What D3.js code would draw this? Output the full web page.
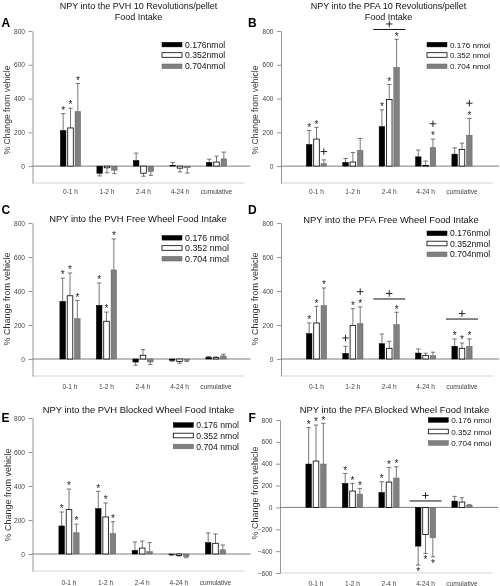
<!DOCTYPE html>
<html><head><meta charset="utf-8">
<script src="https://cdn.jsdelivr.net/npm/d3@7"></script>
<style>body{margin:0;background:#fff} svg{display:block;filter:grayscale(100%)}</style>
</head><body>
<svg id="c" width="500" height="586"></svg>
<script>
// ---------- data ----------
const categories = ["0-1 h", "1-2 h", "2-4 h", "4-24 h", "cumulative"];
const doseLabelsTight = ["0.176nmol", "0.352nmol", "0.704nmol"];
const doseLabels = ["0.176 nmol", "0.352 nmol", "0.704 nmol"];
const ticksStd = [0, 200, 400, 600, 800];
const ticksWide = [-600, -400, -200, 0, 200, 400, 600, 800];

// means [series][category], error magnitudes likewise
const aMean = [[211, -43, 33, 5, 22], [226, -10, -42, -12, 24], [323, -24, -32, -10, 43]];
const aErr  = [[100, 15, 44, 16, 19], [117, 30, 18, 23, 35], [166, 21, 23, 31, 40]];
const bMean = [[128, 22, 234, 55, 71], [160, 24, 394, 4, 99], [14, 93, 585, 110, 183]];
const bErr  = [[83, 23, 99, 40, 37], [70, 57, 89, 26, 37], [23, 71, 166, 50, 99]];
const cMean = [[339, 316, -18, -8, 10], [372, 222, 22, -15, 8], [237, 524, -18, -8, 18]];
const cErr  = [[137, 131, 19, 5, 5], [134, 54, 33, 10, 4], [108, 182, 15, 7, 10]];
const dMean = [[149, 33, 90, 35, 75], [212, 198, 63, 20, 63], [314, 208, 202, 20, 75]];
const dErr  = [[63, 42, 57, 24, 43], [98, 98, 41, 14, 31], [104, 98, 73, 20, 43]];
const eMean = [[165, 267, 22, -3, 67], [261, 218, 35, -8, 63], [125, 120, 14, -15, 25]];
const eErr  = [[82, 102, 49, 5, 57], [121, 82, 41, 4, 55], [51, 70, 53, 7, 28]];
const fMean = [[397, 220, 137, -354, 58], [424, 150, 232, -247, 49], [397, 122, 269, -278, 21]];
const fErr  = [[333, 91, 98, 174, 43], [330, 70, 134, 174, 40], [373, 52, 103, 174, 4]];

// significance marks: [category index, series index]
const aStars = [[0,0],[0,1],[0,2]];
const bStars = [[0,0],[0,1],[2,0],[2,1],[2,2],[3,2],[4,2]];
const bPlus  = [[0,2],[3,2],[4,2]];
const bGroups = [[2, 809]];
const cStars = [[0,0],[0,1],[0,2],[1,0],[1,1],[1,2]];
const dStars = [[0,0],[0,1],[0,2],[1,1],[1,2],[2,2],[4,0],[4,1],[4,2]];
const dPlus  = [[1,0],[1,2]];
const dGroups = [[2, 353], [4, 235]];
const eStars = [[0,0],[0,1],[0,2],[1,0],[1,1],[1,2]];
const fStars = [[0,0],[0,1],[0,2],[1,0],[1,1],[1,2],[2,0],[2,1],[2,2],[3,0],[3,1],[3,2]];
const fGroups = [[3, 59]];

const titles = {
  A: ["NPY into the PVH 10 Revolutions/pellet", "Food Intake"],
  B: ["NPY into the PFA 10 Revolutions/pellet", "Food Intake"],
  C: ["NPY into the PVH Free Wheel Food Intake"],
  D: ["NPY into the PFA Free Wheel Food Intake"],
  E: ["NPY into the PVH Blocked Wheel Food Intake"],
  F: ["NPY into the PFA Blocked Wheel Food Intake"]
};

// ---------- layout ----------
const FONT = "'Liberation Sans', Arial, Helvetica, sans-serif";
const panels = [
  {id:"A", mean:aMean, err:aErr, legend:doseLabelsTight, stars:aStars, plus:[], groups:[],
   axisX:32.5, xr:[70.5,216.5], yr:[183,31], dom:[-100,800], ticks:ticksStd,
   titleX:138.5, titleY:[9.4,19.8], titleFont:9, letter:[1.5,27], legX:162, legRows:[44.6,55,66.3], legFont:8.6,
   catY:193.5, ylabX:9.8, ylabY:110, ylabFont:8.6},
  {id:"B", mean:bMean, err:bErr, legend:doseLabels, stars:bStars, plus:bPlus, groups:bGroups,
   axisX:281, xr:[316.5,462], yr:[183,31], dom:[-100,800], ticks:ticksStd,
   titleX:388.5, titleY:[9.4,19.8], titleFont:9, letter:[248,27], legX:427, legRows:[44.6,55,66.3], legFont:8.1,
   catY:193.5, ylabX:257.5, ylabY:110, ylabFont:8.6},
  {id:"C", mean:cMean, err:cErr, legend:doseLabels, stars:cStars, plus:[], groups:[],
   axisX:32.5, xr:[70,216], yr:[376,223], dom:[-100,800], ticks:ticksStd,
   titleX:138, titleY:[221.7], titleFont:9.4, letter:[1.5,213.5], legX:162, legRows:[237.8,248,258.7], legFont:8.9,
   catY:388.5, ylabX:10.2, ylabY:299, ylabFont:9},
  {id:"D", mean:dMean, err:dErr, legend:doseLabelsTight, stars:dStars, plus:dPlus, groups:dGroups,
   axisX:281, xr:[316.5,462], yr:[376,223], dom:[-100,800], ticks:ticksStd,
   titleX:391, titleY:[222.5], titleFont:9.4, letter:[248,213.5], legX:427, legRows:[233.3,243.5,254.3], legFont:8.6,
   catY:388.5, ylabX:257.5, ylabY:299, ylabFont:9},
  {id:"E", mean:eMean, err:eErr, legend:doseLabels, stars:eStars, plus:[], groups:[],
   axisX:32.5, xr:[69,215.5], yr:[571,418], dom:[-100,800], ticks:ticksStd,
   titleX:138.5, titleY:[412.5], titleFont:9.4, letter:[1.5,422], legX:173.3, legRows:[425,435.5,446.5], legFont:8.6,
   catY:584.5, ylabX:10.5, ylabY:495, ylabFont:9},
  {id:"F", mean:fMean, err:fErr, legend:doseLabels, stars:fStars, plus:[], groups:fGroups,
   axisX:280, xr:[316,462], yr:[573,420], dom:[-600,800], ticks:ticksWide,
   titleX:394.5, titleY:[413], titleFont:9.4, letter:[248.5,422], legX:428.3, legRows:[420,431.5,443], legFont:8.1,
   catY:585.5, ylabX:257.5, ylabY:493, ylabFont:9}
];

const fills = ["#000000", "#ffffff", "#808080"];
const strokes = ["#000000", "#000000", "#606060"];

const svg = d3.select("#c").style("font-family", FONT);

// significance cross mark drawn as two strokes
function cross(g, cx, cy) {
  const h = 3.2;
  g.append("path").attr("d", `M${cx - h},${cy}H${cx + h}M${cx},${cy - h}V${cy + h}`)
    .attr("stroke", "#222").attr("stroke-width", 1).attr("fill", "none");
}

panels.forEach(p => {
  const g = svg.append("g");
  const y = d3.scaleLinear().domain(p.dom).range(p.yr);
  const x = d3.scalePoint().domain(categories).range(p.xr);
  const s = d3.scaleBand().domain([0,1,2]).range([-11, 11]).padding(0);
  const barW = s.bandwidth() * 0.76;
  const barX = (ci, si) => x(categories[ci]) + s(si) + (s.bandwidth() - barW) / 2;
  const barC = (ci, si) => barX(ci, si) + barW / 2;

  // bottom frame line
  g.append("line").attr("x1", p.axisX).attr("x2", p.axisX + 212)
    .attr("y1", y(p.dom[0])).attr("y2", y(p.dom[0]))
    .attr("stroke", "#c8c8c8").attr("stroke-width", 0.8);

  // y axis
  const ax = g.append("g").attr("transform", `translate(${p.axisX},0)`)
    .call(d3.axisLeft(y).tickValues(p.ticks).tickSize(4).tickSizeOuter(0).tickPadding(3.5));
  ax.select(".domain").attr("stroke", "#8a8a8a").attr("stroke-width", 0.9);
  ax.selectAll(".tick line").attr("stroke", "#8a8a8a").attr("stroke-width", 0.9);
  ax.selectAll(".tick text").attr("font-size", 6.6).attr("fill", "#444").attr("font-family", FONT);

  // zero line
  g.append("line").attr("x1", p.axisX).attr("x2", p.axisX + 218)
    .attr("y1", y(0)).attr("y2", y(0)).attr("stroke", "#707070").attr("stroke-width", 0.9);

  // category labels
  g.selectAll("text.cat").data(categories).enter().append("text")
    .attr("x", d => x(d)).attr("y", p.catY).attr("text-anchor", "middle")
    .attr("font-size", 6.6).attr("fill", "#444").text(d => d);

  // bars + error bars
  p.mean.forEach((series, si) => {
    series.forEach((v, ci) => {
      const top = Math.max(v, 0), bot = Math.min(v, 0);
      const e = p.err[si][ci];
      const ev = v >= 0 ? v + e : v - e;
      const cx = barC(ci, si);
      g.append("line").attr("x1", cx).attr("x2", cx).attr("y1", y(v)).attr("y2", y(ev))
        .attr("stroke", "#555").attr("stroke-width", 0.8);
      g.append("line").attr("x1", cx - 2.2).attr("x2", cx + 2.2).attr("y1", y(ev)).attr("y2", y(ev))
        .attr("stroke", "#555").attr("stroke-width", 0.8);
      g.append("rect").attr("x", barX(ci, si)).attr("width", barW)
        .attr("y", y(top)).attr("height", Math.max(0.6, y(bot) - y(top)))
        .attr("fill", fills[si]).attr("stroke", strokes[si]).attr("stroke-width", si === 1 ? 0.8 : 0.5);
    });
  });

  const errEnd = (ci, si) => {
    const v = p.mean[si][ci], e = p.err[si][ci];
    return v >= 0 ? v + e : v - e;
  };

  // stars
  p.stars.forEach(([ci, si]) => {
    const v = p.mean[si][ci];
    const ey = y(errEnd(ci, si));
    g.append("text").attr("x", barC(ci, si)).attr("y", v >= 0 ? ey + 0.3 : ey + 10)
      .attr("text-anchor", "middle").attr("font-size", 10).attr("fill", "#222").text("*");
  });
  // plus marks
  p.plus.forEach(([ci, si]) => {
    const ey = y(errEnd(ci, si));
    const stacked = p.stars.some(([c2, s2]) => c2 === ci && s2 === si);
    cross(g, barC(ci, si), stacked ? ey - 15.3 : ey - 8.3);
  });
  // group lines
  p.groups.forEach(([ci, val]) => {
    const cx = x(categories[ci]);
    const ly = y(val);
    g.append("line").attr("x1", cx - 16).attr("x2", cx + 16).attr("y1", ly).attr("y2", ly)
      .attr("stroke", "#111").attr("stroke-width", 1);
    cross(g, cx, ly - 5.5);
  });

  // legend
  p.legend.forEach((lab, si) => {
    const ry = p.legRows[si];
    g.append("rect").attr("x", p.legX).attr("y", ry - 2.3).attr("width", 20).attr("height", 4.6)
      .attr("fill", fills[si]).attr("stroke", strokes[si]).attr("stroke-width", si === 1 ? 0.8 : 0.5);
    g.append("text").attr("x", p.legX + 23).attr("y", ry + 3.1).attr("font-size", p.legFont)
      .attr("fill", "#111").text(lab);
  });

  // title
  titles[p.id].forEach((t, i) => {
    g.append("text").attr("x", p.titleX).attr("y", p.titleY[i]).attr("text-anchor", "middle")
      .attr("font-size", p.titleFont).attr("fill", "#111").text(t);
  });

  // y axis title
  g.append("text").attr("transform", `translate(${p.ylabX},${p.ylabY}) rotate(-90)`)
    .attr("text-anchor", "middle").attr("font-size", p.ylabFont).attr("fill", "#333")
    .text("% Change from vehicle");

  // panel letter
  g.append("text").attr("x", p.letter[0]).attr("y", p.letter[1]).attr("font-size", 12)
    .attr("font-weight", "bold").attr("fill", "#000").text(p.id);
});
</script>
</body></html>
